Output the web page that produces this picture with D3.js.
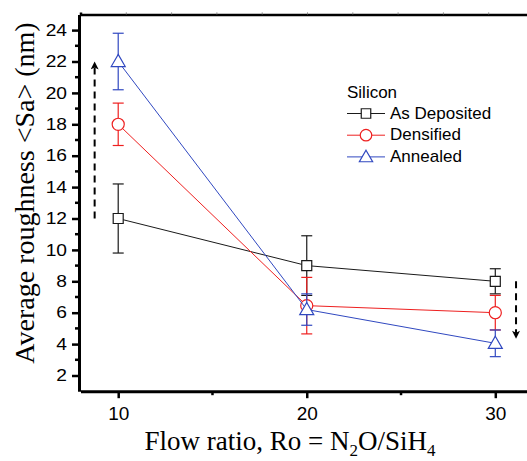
<!DOCTYPE html>
<html>
<head>
<meta charset="utf-8">
<script src="https://cdn.jsdelivr.net/npm/d3@7"></script>
<style>
  body { margin: 0; background: #fff; }
  svg { display: block; }
  .tick text { font-family: "Liberation Sans", Arial, sans-serif; fill: #000; }
</style>
</head>
<body>
<div id="chart"></div>
<script>
// data
const ratios = [10, 20, 30];
const seriesNames = ["As Deposited", "Densified", "Annealed"];
const asDeposited = [12, 9, 8];
const asDepositedErr = [2.2, 1.9, 0.8];
const densified = [18, 6.45, 6.0];
const densifiedErr = [1.35, 1.8, 1.1];
const annealed = [22, 6.2, 4.05];
const annealedErr = [1.8, 1.0, 0.85];
const yTicks = [2, 4, 6, 8, 10, 12, 14, 16, 18, 20, 22, 24];
const xTicks = [10, 20, 30];
// dashed trend arrows, in data units
const arrowUp = {x: 8.75, from: 12, to: 21.9};
const arrowDown = {x: 31.1, from: 8, to: 4.45};

(function roughness(){
    let width = 527,
    height = 461

    const svg = d3.select("#chart")
    .append("svg")
    .attr("width", width)
    .attr("height", height);

    let x = d3.scaleLinear().domain([8, 32]).range([80.5, 533]);
    let y = d3.scaleLinear().domain([1, 25]).range([391.2, 14.4]);
    // top frame has its own tick spacing in the original
    let xTop = d3.scaleLinear().domain([0, 10]).range([80.5, 533.5]);

    const colors = ["#1a1a1a", "#ee2020", "#3048c0"];
    const shapes = [d3.symbolSquare, d3.symbolCircle, d3.symbolTriangle];
    const sizes = [100, 115, 85];

    let series = [
        {name: seriesNames[0], values: asDeposited, err: asDepositedErr},
        {name: seriesNames[1], values: densified, err: densifiedErr},
        {name: seriesNames[2], values: annealed, err: annealedErr}
    ];

    // top frame line with faint ticks
    svg.append("g")
    .attr("transform", `translate(0,${y(25)})`)
    .call(d3.axisTop(xTop).tickValues(d3.range(1, 10)).tickSize(2).tickFormat(""))
    .call(g => g.select(".domain").attr("stroke-width", 2.5))
    .call(g => g.selectAll(".tick line").attr("stroke", "#888").attr("stroke-width", 1));

    // left axis
    let yAxis = svg.append("g")
    .attr("transform", `translate(${x(8) - 1.5},0)`);
    yAxis.call(d3.axisLeft(y).tickValues(yTicks).tickSize(7).tickSizeOuter(0).tickPadding(3))
    .call(g => g.select(".domain").attr("stroke-width", 3))
    .call(g => g.selectAll(".tick line").attr("stroke-width", 2.5))
    .call(g => g.selectAll(".tick text")
        .attr("font-size", 16)
        .attr("transform", "scale(1.2,1)"));
    yAxis.selectAll("line.minor")
    .data(d3.range(3, 25, 2))
    .join("line")
    .classed("minor", true)
    .attr("x1", 0).attr("x2", -4)
    .attr("y1", d => y(d)).attr("y2", d => y(d))
    .attr("stroke", "#000")
    .attr("stroke-width", 2.5);

    // bottom axis
    let xAxis = svg.append("g")
    .attr("transform", `translate(0,${y(1)})`);
    xAxis.call(d3.axisBottom(x).tickValues(xTicks).tickSize(7).tickSizeOuter(0).tickPadding(8))
    .call(g => g.select(".domain").attr("stroke-width", 3))
    .call(g => g.selectAll(".tick line").attr("stroke-width", 2.5))
    .call(g => g.selectAll(".tick text").attr("font-size", 19));
    xAxis.selectAll("line.minor")
    .data([15, 25])
    .join("line")
    .classed("minor", true)
    .attr("x1", d => x(d)).attr("x2", d => x(d))
    .attr("y1", 0).attr("y2", 4)
    .attr("stroke", "#000")
    .attr("stroke-width", 2.5);

    // series: line, error bars, symbols
    let line = d3.line()
    .x((d, i) => x(ratios[i]))
    .y(d => y(d));

    series.forEach((s, k) => {
        let g = svg.append("g").classed("series", true);
        g.append("path")
        .attr("d", line(s.values))
        .attr("fill", "none")
        .attr("stroke", colors[k])
        .attr("stroke-width", 1);

        let eb = g.selectAll("g.err")
        .data(s.values)
        .join("g")
        .classed("err", true);
        eb.append("line")
        .attr("x1", (d, i) => x(ratios[i])).attr("x2", (d, i) => x(ratios[i]))
        .attr("y1", (d, i) => y(d + s.err[i])).attr("y2", (d, i) => y(d - s.err[i]));
        eb.append("line")
        .attr("x1", (d, i) => x(ratios[i]) - 5.5).attr("x2", (d, i) => x(ratios[i]) + 5.5)
        .attr("y1", (d, i) => y(d + s.err[i])).attr("y2", (d, i) => y(d + s.err[i]));
        eb.append("line")
        .attr("x1", (d, i) => x(ratios[i]) - 5.5).attr("x2", (d, i) => x(ratios[i]) + 5.5)
        .attr("y1", (d, i) => y(d - s.err[i])).attr("y2", (d, i) => y(d - s.err[i]));
        eb.selectAll("line")
        .attr("stroke", colors[k])
        .attr("stroke-width", 1.2);

        g.selectAll("path.sym")
        .data(s.values)
        .join("path")
        .classed("sym", true)
        .attr("d", d3.symbol(shapes[k], sizes[k]))
        .attr("transform", (d, i) => `translate(${x(ratios[i])},${y(d) + (k == 2 ? 1 : 0)})`)
        .attr("fill", "#fff")
        .attr("stroke", colors[k])
        .attr("stroke-width", 1.2);
    });

    // dashed arrows
    svg.append("defs").append("marker")
    .attr("id", "head")
    .attr("viewBox", "0 0 10 10")
    .attr("refX", 8).attr("refY", 5)
    .attr("markerWidth", 5).attr("markerHeight", 4)
    .attr("markerUnits", "strokeWidth")
    .attr("orient", "auto")
    .append("path")
    .attr("d", "M0,0L10,5L0,10L2.5,5Z")
    .attr("fill", "#000");

    [arrowUp, arrowDown].forEach(a => {
        svg.append("line")
        .attr("x1", x(a.x)).attr("x2", x(a.x))
        .attr("y1", y(a.from)).attr("y2", y(a.to))
        .attr("stroke", "#000")
        .attr("stroke-width", 2)
        .attr("stroke-dasharray", "7,5")
        .attr("marker-end", "url(#head)");
    });

    // legend
    let legend = svg.append("g")
    .attr("transform", "translate(347,98)")
    .style("font-family", "'Liberation Sans', Arial, sans-serif")
    .style("font-size", "17px");
    legend.append("text").text("Silicon");
    series.forEach((s, k) => {
        let row = legend.append("g").attr("transform", `translate(0,${20.5 + k * 21.7})`);
        row.append("line")
        .attr("x1", 0).attr("x2", 38)
        .attr("y1", -5).attr("y2", -5)
        .attr("stroke", colors[k]);
        row.append("path")
        .attr("d", d3.symbol(shapes[k], sizes[k] * 0.9))
        .attr("transform", `translate(19,${-5 + (k == 2 ? 1 : 0)})`)
        .attr("fill", "#fff")
        .attr("stroke", colors[k])
        .attr("stroke-width", 1.2);
        row.append("text")
        .attr("x", 43)
        .text(s.name);
    });

    // axis titles
    svg.append("text")
    .attr("transform", `translate(34,193) rotate(-90)`)
    .attr("text-anchor", "middle")
    .style("font-family", "'Liberation Serif', 'Times New Roman', serif")
    .style("font-size", "28px")
    .text("Average roughness <Sa> (nm)");

    let xt = svg.append("text")
    .attr("x", 290)
    .attr("y", 450)
    .attr("text-anchor", "middle")
    .style("font-family", "'Liberation Serif', 'Times New Roman', serif")
    .style("font-size", "27px");
    xt.append("tspan").text("Flow ratio, Ro = N");
    xt.append("tspan").attr("dy", 6).style("font-size", "17px").text("2");
    xt.append("tspan").attr("dy", -6).text("O/SiH");
    xt.append("tspan").attr("dy", 6).style("font-size", "17px").text("4");

    return svg.node();
})();
</script>
</body>
</html>
